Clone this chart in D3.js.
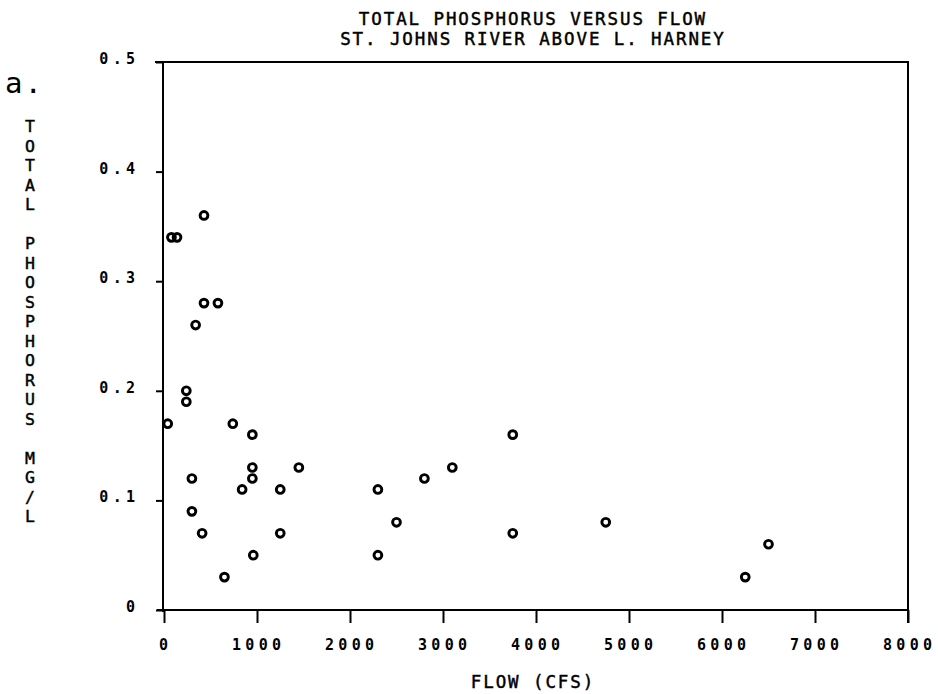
<!DOCTYPE html>
<html>
<head>
<meta charset="utf-8">
<script src="https://cdn.jsdelivr.net/npm/d3@7"></script>
<style>
  html, body { margin: 0; padding: 0; background: #fff; }
  svg { display: block; }
  .mono { font-family: "DejaVu Sans Mono", "Liberation Mono", monospace; fill: #000; }
</style>
</head>
<body>
<svg id="chart" width="938" height="694"></svg>
<script>
// Total phosphorus (mg/L) against river flow (cfs)
const flow = [430, 80, 140, 430, 580, 340, 240, 240, 40, 740, 950, 950, 1450,
              300, 950, 840, 1250, 300, 410, 1250, 960, 650,
              3750, 3100, 2800, 2300, 2500, 2300, 3750, 4750, 6500, 6250];
const phosphorus = [0.36, 0.34, 0.34, 0.28, 0.28, 0.26, 0.20, 0.19, 0.17, 0.17, 0.16, 0.13, 0.13,
                    0.12, 0.12, 0.11, 0.11, 0.09, 0.07, 0.07, 0.05, 0.03,
                    0.16, 0.13, 0.12, 0.11, 0.08, 0.05, 0.07, 0.08, 0.06, 0.03];

const xTicks = [0, 1000, 2000, 3000, 4000, 5000, 6000, 7000, 8000];
const xTickLabels = ["0", "1000", "2000", "3000", "4000", "5000", "6000", "7000", "8000"];
const yTicks = [0, 0.1, 0.2, 0.3, 0.4, 0.5];
const yTickLabels = ["0", "0.1", "0.2", "0.3", "0.4", "0.5"];

const titleLines = ["TOTAL PHOSPHORUS VERSUS FLOW", "ST. JOHNS RIVER ABOVE L. HARNEY"];
const xTitle = "FLOW (CFS)";
const yTitle = "TOTAL PHOSPHORUS MG/L";
const panelTag = "a.";

const svg = d3.select("#chart");
const plotL = 164, plotR = 908, plotT = 62, plotB = 610;

const x = d3.scaleLinear().domain([0, 8000]).range([plotL, plotR]);
const y = d3.scaleLinear().domain([0, 0.5]).range([plotB, plotT]);

const tickLS = 4.3;   // letter spacing of tick labels
const titleLS = 1.9;

// frame: top and right edges
svg.append("path")
  .attr("d", `M${plotL - 9},${plotT}H${plotR}V${plotB + 13}`)
  .attr("fill", "none").attr("stroke", "#000").attr("stroke-width", 2);

// left axis
const yAxis = svg.append("g")
  .attr("transform", `translate(${plotL - 1},0)`)
  .call(d3.axisLeft(y).tickValues(yTicks).tickSize(7).tickSizeOuter(0)
        .tickFormat((d, i) => yTickLabels[i]));
yAxis.select(".domain").attr("stroke-width", 2).attr("d", `M0,${plotT}V${plotB + 2}`);
yAxis.selectAll(".tick line").attr("stroke-width", 2);
yAxis.selectAll(".tick text")
  .attr("class", "mono")
  .attr("x", -28 + tickLS)
  .attr("dy", null)
  .attr("y", 1.5)
  .style("font-size", "15px").style("font-weight", "bold")
  .style("letter-spacing", tickLS + "px");

// bottom axis
const xAxis = svg.append("g")
  .attr("transform", `translate(0,${plotB})`)
  .call(d3.axisBottom(x).tickValues(xTicks).tickSize(13).tickSizeOuter(0)
        .tickFormat((d, i) => xTickLabels[i]));
xAxis.select(".domain").attr("stroke-width", 2).attr("d", `M${plotL - 7},0H${plotR}`);
xAxis.selectAll(".tick line").attr("stroke-width", 2);
xAxis.selectAll(".tick text")
  .attr("class", "mono")
  .attr("x", tickLS / 2 - 1)
  .attr("dy", null)
  .attr("y", 40)
  .style("font-size", "15px").style("font-weight", "bold")
  .style("letter-spacing", tickLS + "px");

svg.selectAll(".domain, .tick line").attr("stroke", "#000");

// data points
svg.append("g")
  .selectAll("circle")
  .data(flow.map((f, i) => ({ f, p: phosphorus[i] })))
  .join("circle")
  .attr("cx", d => x(d.f))
  .attr("cy", d => y(d.p))
  .attr("r", 3.9)
  .attr("fill", "none")
  .attr("stroke", "#000")
  .attr("stroke-width", 2.9);

// title
svg.append("g")
  .selectAll("text")
  .data(titleLines)
  .join("text")
  .attr("class", "mono")
  .attr("x", 532 + titleLS / 2)
  .attr("y", (d, i) => 25 + i * 19.5)
  .attr("text-anchor", "middle")
  .style("font-size", "17.5px")
  .style("font-weight", "500")
  .style("stroke", "#000").style("stroke-width", "0.45px")
  .style("letter-spacing", titleLS + "px")
  .text(d => d);

// x axis title
svg.append("text")
  .attr("class", "mono")
  .attr("x", 532 + titleLS / 2)
  .attr("y", 688)
  .attr("text-anchor", "middle")
  .style("font-size", "17.5px")
  .style("stroke", "#000").style("stroke-width", "0.45px")
  .style("letter-spacing", titleLS + "px")
  .text(xTitle);

// y axis title, one letter per row
svg.append("g")
  .selectAll("text")
  .data(yTitle.split(""))
  .join("text")
  .attr("class", "mono")
  .attr("x", 30)
  .attr("y", (d, i) => 132 + i * 19.5)
  .attr("text-anchor", "middle")
  .style("font-size", "16.5px")
  .style("stroke", "#000").style("stroke-width", "0.45px")
  .text(d => d);

// panel tag
svg.append("text")
  .attr("class", "mono")
  .attr("x", 5)
  .attr("y", 93)
  .style("font-size", "29px")
  .style("letter-spacing", "2px")
  .text(panelTag);
</script>
</body>
</html>
